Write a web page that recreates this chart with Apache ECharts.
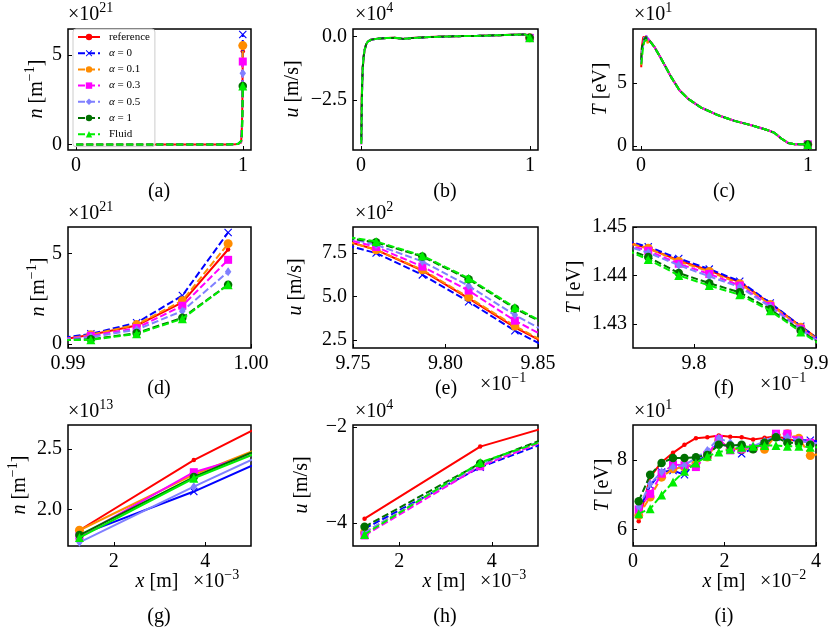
<!DOCTYPE html>
<html lang="en">
<head>
<meta charset="UTF-8">
<title>profiles</title>
<style>html,body{margin:0;padding:0;background:#fff}</style>
</head>
<body>
<div id="chart-box" style="width:836px;height:636px"></div>
<script src="https://cdn.jsdelivr.net/npm/echarts@6/dist/echarts.min.js"></script>
<script>
var names = ['reference', 'α = 0', 'α = 0.1', 'α = 0.3', 'α = 0.5', 'α = 1', 'Fluid'];
var colors = ['#ff0000', '#0000ff', '#ff8c00', '#ff00ff', '#8080ff', '#007000', '#00ee00'];
var symbols = ['circle', 'path://M0,1L1,0L5,4L9,0L10,1L6,5L10,9L9,10L5,6L1,10L0,9L4,5Z', 'circle', 'rect', 'diamond', 'circle', 'triangle'];
var symbolSizes = [4.5, 8, 9, 8, [6.5, 9], 8.5, 9];

// density n : head in 1e13 m^-1, mid and tail in 1e21 m^-1
var nHeadX = [1.25e-3, 3.75e-3, 6.25e-3];
var nHead = [
    [1.83, 2.41, 2.89],
    [1.79, 2.15, 2.57],
    [1.83, 2.29, 2.67],
    [1.78, 2.31, 2.59],
    [1.73, 2.19, 2.63],
    [1.79, 2.27, 2.67],
    [1.77, 2.26, 2.64]
];
var nMidX = [0.05, 0.2, 0.4, 0.6, 0.8, 0.9, 0.95, 0.97, 0.98];
var nMid = [0.0, 0.0, 0.0, 0.0, 0.0, 0.002, 0.01, 0.03, 0.07];
var nTailX = [0.98875, 0.99125, 0.99375, 0.99625, 0.99875];
var nTail = [
    [0.10, 0.51, 1.02, 2.29, 5.21],
    [0.20, 0.56, 1.17, 2.67, 6.15],
    [0.12, 0.51, 1.07, 2.39, 5.53],
    [0.13, 0.45, 0.88, 2.11, 4.64],
    [0.15, 0.38, 0.79, 1.82, 3.98],
    [0.18, 0.26, 0.60, 1.45, 3.27],
    [0.20, 0.23, 0.56, 1.39, 3.27]
];

// velocity u : head and mid in 1e4 m/s, tail and end in 1e2 m/s
var uHeadX = [1.25e-3, 3.75e-3, 6.25e-3];
var uHead = [
    [-3.91, -2.41, -1.71],
    [-4.12, -2.84, -1.94],
    [-4.20, -2.80, -1.88],
    [-4.26, -2.82, -1.88],
    [-4.20, -2.78, -1.86],
    [-4.08, -2.76, -1.84],
    [-4.24, -2.74, -1.92]
];
var uMidX = [0.01, 0.015, 0.02, 0.03, 0.04, 0.06, 0.1, 0.15, 0.2, 0.25, 0.3, 0.4, 0.5, 0.6, 0.7, 0.8, 0.9, 0.95];
var uMid = [-1.2, -0.8, -0.55, -0.3, -0.2, -0.12, -0.08, -0.06, -0.05, -0.09, -0.06, -0.02, 0.0, 0.02, 0.03, 0.05, 0.07, 0.08];
var uTailX = [0.97375, 0.97625, 0.97875, 0.98125, 0.98375, 0.98625];
var uTail = [
    [8.47, 7.69, 6.50, 4.90, 3.23, 1.85],
    [8.20, 7.50, 6.25, 4.71, 3.04, 1.66],
    [8.45, 7.69, 6.54, 4.96, 3.31, 1.89],
    [8.55, 7.85, 6.73, 5.35, 3.62, 2.22],
    [8.60, 7.98, 7.02, 5.62, 3.94, 2.52],
    [8.52, 8.12, 7.30, 6.00, 4.32, 2.95],
    [8.57, 8.17, 7.35, 6.06, 4.38, 3.00]
];
var uEndX = [0.98875, 0.99125, 0.99375, 0.99625, 0.99875];
var uEnd = [0.8, -0.9, -2.3, -3.7, -5.0];

// temperature T : head and mid in 1e1 eV, tail and end in eV
var tHeadX = [0.00125, 0.00375, 0.00625, 0.00875, 0.01125, 0.01375, 0.01625, 0.01875,
              0.02125, 0.02375, 0.02625, 0.02875, 0.03125, 0.03375, 0.03625, 0.03875];
var tHead = [
    [6.23, 7.50, 7.93, 8.20, 8.43, 8.62, 8.65, 8.70, 8.66, 8.65, 8.58, 8.63, 8.68, 8.60, 8.53, 8.53],
    [6.52, 7.26, 7.65, 7.69, 7.57, 7.95, 8.12, 8.53, 8.32, 8.17, 8.33, 8.46, 8.65, 8.56, 8.56, 8.56],
    [6.40, 6.93, 7.50, 7.74, 7.79, 7.91, 8.08, 8.56, 8.32, 8.30, 8.32, 8.30, 8.70, 8.75, 8.62, 8.12],
    [6.57, 7.02, 7.60, 7.86, 7.84, 7.79, 8.14, 8.60, 8.27, 8.32, 8.33, 8.46, 8.75, 8.75, 8.56, 8.49],
    [6.64, 7.31, 7.65, 7.79, 7.84, 8.05, 8.27, 8.62, 8.49, 8.32, 8.39, 8.53, 8.70, 8.65, 8.56, 8.49],
    [6.81, 7.57, 7.91, 8.05, 8.05, 8.07, 8.14, 8.43, 8.41, 8.43, 8.30, 8.49, 8.65, 8.49, 8.49, 8.43],
    [6.45, 6.59, 6.99, 7.36, 7.67, 7.91, 8.10, 8.22, 8.30, 8.36, 8.39, 8.41, 8.41, 8.39, 8.39, 8.36]
];
var tMidX = [0.05, 0.08, 0.12, 0.18, 0.23, 0.28, 0.36, 0.46, 0.56, 0.66, 0.76, 0.80, 0.84, 0.88, 0.92, 0.96];
var tMid = [8.35, 7.84, 6.92, 5.47, 4.42, 3.76, 3.05, 2.45, 2.0, 1.66, 1.26, 1.05, 0.61, 0.26, 0.16, 0.152];
var tTailX = [0.97375, 0.97625, 0.97875, 0.98125, 0.98375, 0.98625, 0.98875, 0.99125];
var tTail = [
    [1.4474, 1.4456, 1.4431, 1.4410, 1.4386, 1.4342, 1.4295, 1.4249],
    [1.4476, 1.4459, 1.4435, 1.4413, 1.4388, 1.4343, 1.4295, 1.4249],
    [1.4472, 1.4456, 1.4429, 1.4408, 1.4383, 1.4340, 1.4293, 1.4248],
    [1.4468, 1.4451, 1.4424, 1.4403, 1.4379, 1.4337, 1.4290, 1.4246],
    [1.4466, 1.4447, 1.4421, 1.4398, 1.4376, 1.4335, 1.4288, 1.4245],
    [1.4462, 1.4438, 1.4405, 1.4384, 1.4365, 1.4330, 1.4286, 1.4244],
    [1.4460, 1.4433, 1.4400, 1.4379, 1.4360, 1.4327, 1.4283, 1.4243]
];
var tEndX = [0.99375, 0.99625, 0.99875];
var tEnd = [1.42, 1.41, 1.40];

// tick values per panel
var ticksTopX = [0, 1];
var ticksAY = [0, 5];
var ticksBY = [-2.5, 0];
var ticksCY = [0, 5];
var ticksDX = [0.99, 1.0];
var ticksDY = [0, 5];
var ticksEX = [9.75, 9.8, 9.85];
var ticksEY = [2.5, 5, 7.5];
var ticksFX = [9.8, 9.9];
var ticksFY = [1.43, 1.44, 1.45];
var ticksGHX = [2, 4];
var ticksGY = [2, 2.5];
var ticksHY = [-4, -2];
var ticksIX = [0, 2, 4];
var ticksIY = [6, 8];

function join(parts) {
    var out = [];
    parts.forEach(function (p) {
        for (var k = 0; k < p[0].length; k++) out.push([p[0][k], p[1][k] * p[2]]);
    });
    return out;
}
function fullProfile(v, i) {
    if (v === 'n') return join([[nHeadX, nHead[i], 1e13], [nMidX, nMid, 1e21], [nTailX, nTail[i], 1e21]]);
    if (v === 'u') return join([[uHeadX, uHead[i], 1e4], [uMidX, uMid, 1e4], [uTailX, uTail[i], 1e2], [uEndX, uEnd, 1e2]]);
    return join([[tHeadX, tHead[i], 10], [tMidX, tMid, 10], [tTailX, tTail[i], 1], [tEndX, tEnd, 1]]);
}

var FONT = 'Liberation Serif';
var colLeft = [68, 353, 633], colWidth = [183, 185, 183], rowTop = [29, 227, 425], rowH = 121;

var panels = [
    {v: 'n', c: 0, r: 0, xu: 1, yu: 1e21, xr: [-0.048, 1.048], yr: [-0.31, 6.46], xt: ticksTopX, yt: ticksAY, xd: 0, yd: 0, top: true},
    {v: 'u', c: 1, r: 0, xu: 1, yu: 1e4, xr: [-0.048, 1.048], yr: [-4.48, 0.30], xt: ticksTopX, yt: ticksBY, xd: 0, yd: 1, top: true},
    {v: 'T', c: 2, r: 0, xu: 1, yu: 10, xr: [-0.048, 1.048], yr: [-0.3, 9.25], xt: ticksTopX, yt: ticksCY, xd: 0, yd: 0, top: true},
    {v: 'n', c: 0, r: 1, xu: 1, yu: 1e21, xr: [0.99, 1.0], yr: [-0.22, 6.45], xt: ticksDX, yt: ticksDY, xd: 2, yd: 0},
    {v: 'u', c: 1, r: 1, xu: 0.1, yu: 100, xr: [9.75, 9.85], yr: [2.05, 9.0], xt: ticksEX, yt: ticksEY, xd: 2, yd: 1},
    {v: 'T', c: 2, r: 1, xu: 0.1, yu: 1, xr: [9.75, 9.9], yr: [1.425, 1.45], xt: ticksFX, yt: ticksFY, xd: 1, yd: 2},
    {v: 'n', c: 0, r: 2, xu: 1e-3, yu: 1e13, xr: [1, 5], yr: [1.70, 2.70], xt: ticksGHX, yt: ticksGY, xd: 0, yd: 1},
    {v: 'u', c: 1, r: 2, xu: 1e-3, yu: 1e4, xr: [1, 5], yr: [-4.48, -1.96], xt: ticksGHX, yt: ticksHY, xd: 0, yd: 0},
    {v: 'T', c: 2, r: 2, xu: 1e-2, yu: 10, xr: [0, 4], yr: [5.52, 9.0], xt: ticksIX, yt: ticksIY, xd: 0, yd: 0}
];

function fmt(d) {
    return function (val) { return val.toFixed(d).replace('-', '−'); };
}

var grids = [], xAxes = [], yAxes = [], series = [];
panels.forEach(function (p, k) {
    grids.push({left: colLeft[p.c], top: rowTop[p.r], width: colWidth[p.c], height: rowH,
        show: true, borderColor: '#000', borderWidth: 1.5, backgroundColor: 'transparent'});
    var tick = {show: true, inside: true, length: 4, lineStyle: {color: '#000', width: 1}};
    var lbl = {color: '#000', fontFamily: FONT, fontSize: 20, margin: 6, showMinLabel: true, showMaxLabel: true};
    xAxes.push({
        type: 'value', gridIndex: k, min: p.xr[0], max: p.xr[1], position: 'bottom',
        splitLine: {show: false}, axisLine: {show: false, onZero: false},
        axisTick: Object.assign({customValues: p.xt}, tick),
        axisLabel: Object.assign({customValues: p.xt, formatter: fmt(p.xd)}, lbl)
    });
    yAxes.push({
        type: 'value', gridIndex: k, min: p.yr[0], max: p.yr[1], position: 'left',
        splitLine: {show: false}, axisLine: {show: false, onZero: false},
        axisTick: Object.assign({customValues: p.yt}, tick),
        axisLabel: Object.assign({customValues: p.yt, formatter: fmt(p.yd)}, lbl)
    });
    names.forEach(function (nm, i) {
        var pts = fullProfile(p.v, i).map(function (d) { return [d[0] / p.xu, d[1] / p.yu]; });
        var last = pts.length - 1;
        series.push({
            type: 'line', name: nm, xAxisIndex: k, yAxisIndex: k, data: pts,
            symbol: symbols[i],
            symbolSize: p.top ? function (v, params) { return params.dataIndex === last ? symbolSizes[i] : 0; } : symbolSizes[i],
            showSymbol: true, clip: true, silent: true,
            itemStyle: {color: colors[i]},
            lineStyle: {color: colors[i], width: 2, type: i === 0 ? 'solid' : [7, 3]},
            z: 2 + i
        });
    });
});

var richText = {
    m: {fontFamily: FONT, fontSize: 20, lineHeight: 28},
    it: {fontFamily: FONT, fontSize: 20, lineHeight: 28, fontStyle: 'italic'},
    sup: {fontFamily: FONT, fontSize: 14, lineHeight: 14, verticalAlign: 'top'}
};
function label(x, y, text, align, rot) {
    return {
        type: 'text', x: x, y: y, rotation: rot || 0, z: 100, silent: true,
        style: {text: text, fill: '#000', fontFamily: FONT, fontSize: 20,
            align: align || 'center', verticalAlign: 'middle',
            textAlign: align || 'center', textVerticalAlign: 'middle', rich: richText}
    };
}
var R = Math.PI / 2;
var nName = '{it|n}{m| [m}{sup|−1}{m|]}', uName = '{it|u}{m| [m/s]}', tName = '{it|T}{m| [eV]}', xName = '{it|x}{m| [m]}';
var graphics = [
    label(68, 15, '{m|×10}{sup|21}', 'left'),
    label(355, 15, '{m|×10}{sup|4}', 'left'),
    label(634, 15, '{m|×10}{sup|1}', 'left'),
    label(68, 214, '{m|×10}{sup|21}', 'left'),
    label(355, 214, '{m|×10}{sup|2}', 'left'),
    label(68, 412, '{m|×10}{sup|13}', 'left'),
    label(355, 412, '{m|×10}{sup|4}', 'left'),
    label(634, 412, '{m|×10}{sup|1}', 'left'),
    label(480, 385, '{m|×10}{sup|−1}', 'left'),
    label(760, 385, '{m|×10}{sup|−1}', 'left'),
    label(193, 582, '{m|×10}{sup|−3}', 'left'),
    label(480, 582, '{m|×10}{sup|−3}', 'left'),
    label(760, 582, '{m|×10}{sup|−2}', 'left'),
    label(157, 582, xName), label(444, 582, xName), label(724, 582, xName),
    label(37, 89, nName, 'center', R), label(293, 89, uName, 'center', R), label(601, 89, tName, 'center', R),
    label(39, 287, nName, 'center', R), label(296, 287, uName, 'center', R), label(575, 287, tName, 'center', R),
    label(20, 485, nName, 'center', R), label(302, 485, uName, 'center', R), label(603, 485, tName, 'center', R),
    label(159, 192, '{m|(a)}'), label(445, 192, '{m|(b)}'), label(724, 192, '{m|(c)}'),
    label(159, 389, '{m|(d)}'), label(446, 389, '{m|(e)}'), label(724, 389, '{m|(f)}'),
    label(159, 617, '{m|(g)}'), label(445, 617, '{m|(h)}'), label(724, 617, '{m|(i)}')
];

var option = {
    animation: false,
    backgroundColor: '#fff',
    grid: grids,
    xAxis: xAxes,
    yAxis: yAxes,
    legend: {
        data: names, left: 73, top: 29, orient: 'vertical',
        itemWidth: 22, itemHeight: 8, itemGap: 5.2,
        padding: [2.5, 5, 7, 4],
        backgroundColor: 'rgba(255,255,255,0.85)', borderColor: '#cccccc', borderWidth: 1, borderRadius: 3,
        selectedMode: false,
        formatter: function (nm) {
            if (nm.indexOf('α') === 0) return '{i|α}' + nm.slice(1);
            return nm;
        },
        textStyle: {fontFamily: FONT, fontSize: 11, lineHeight: 11, color: '#000', padding: [0, 0, 0, 4],
            rich: {i: {fontFamily: FONT, fontSize: 11, lineHeight: 11, fontStyle: 'italic', color: '#000'}}}
    },
    graphic: graphics,
    series: series
};

var chart = echarts.init(document.getElementById('chart-box'), null, {renderer: 'canvas'});
chart.setOption(option);
</script>
</body>
</html>
